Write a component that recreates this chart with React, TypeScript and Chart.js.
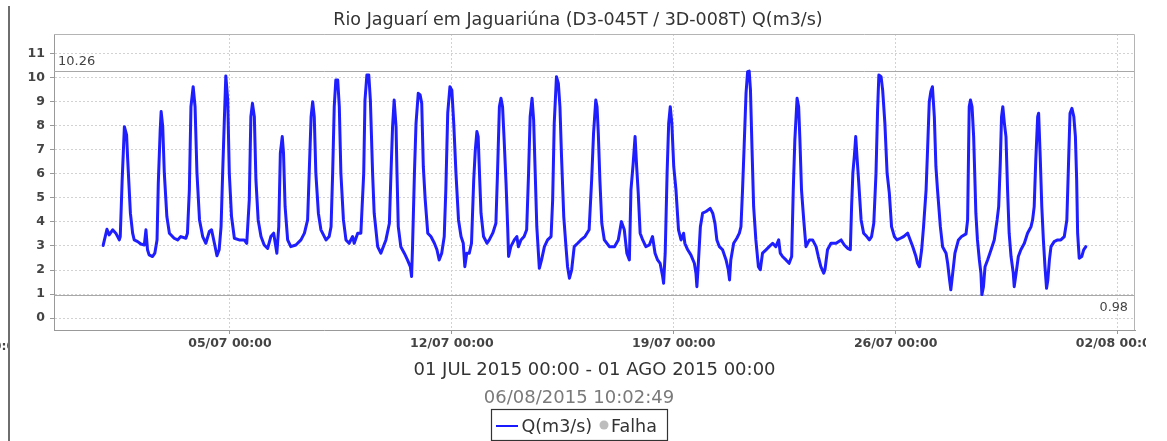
import { useEffect, useRef } from 'react';
import { Chart, registerables } from 'chart.js';

Chart.register(...registerables);

const TITLE = 'Rio Jaguarí em Jaguariúna (D3-045T / 3D-008T) Q(m3/s)';
const PERIOD_LABEL = '01 JUL 2015 00:00 - 01 AGO 2015 00:00';
const STAMP_LABEL = '06/08/2015 10:02:49';
const SERIES_LABEL = 'Q(m3/s)';
const FAIL_LABEL = 'Falha';

// days since 01/07/2015 00:00
const dayOffsets = [
  0.00, 0.12, 0.19, 0.30, 0.40, 0.51, 0.54, 0.60, 0.67, 0.74,
  0.77, 0.86, 0.93, 0.98, 1.09, 1.19, 1.30, 1.35, 1.40, 1.45,
  1.56, 1.63, 1.70, 1.74, 1.80, 1.83, 1.88, 1.93, 2.01, 2.09,
  2.24, 2.35, 2.45, 2.61, 2.66, 2.72, 2.77, 2.84, 2.90, 2.96,
  3.04, 3.14, 3.24, 3.35, 3.42, 3.51, 3.59, 3.66, 3.72, 3.77,
  3.82, 3.87, 3.93, 3.98, 4.05, 4.14, 4.29, 4.45, 4.53, 4.61,
  4.66, 4.71, 4.77, 4.82, 4.89, 4.98, 5.08, 5.19, 5.29, 5.38,
  5.43, 5.48, 5.54, 5.59, 5.65, 5.69, 5.74, 5.82, 5.92, 6.08,
  6.24, 6.35, 6.45, 6.50, 6.56, 6.61, 6.66, 6.71, 6.79, 6.87,
  7.03, 7.13, 7.19, 7.24, 7.29, 7.34, 7.40, 7.45, 7.50, 7.58,
  7.66, 7.76, 7.87, 7.92, 8.03, 8.13, 8.22, 8.26, 8.32, 8.38,
  8.43, 8.50, 8.55, 8.66, 8.76, 8.92, 9.03, 9.08, 9.13, 9.18,
  9.24, 9.27, 9.31, 9.39, 9.50, 9.60, 9.69, 9.73, 9.76, 9.82,
  9.87, 9.94, 10.00, 10.05, 10.10, 10.16, 10.24, 10.34, 10.45, 10.53,
  10.60, 10.68, 10.76, 10.81, 10.87, 10.94, 11.00, 11.06, 11.13, 11.21,
  11.29, 11.36, 11.41, 11.47, 11.55, 11.62, 11.69, 11.74, 11.79, 11.83,
  11.88, 11.92, 12.00, 12.11, 12.18, 12.29, 12.39, 12.44, 12.50, 12.55,
  12.60, 12.65, 12.71, 12.76, 12.79, 12.86, 12.97, 13.05, 13.10, 13.18,
  13.28, 13.36, 13.42, 13.47, 13.53, 13.58, 13.63, 13.68, 13.76, 13.83,
  13.92, 14.02, 14.13, 14.18, 14.23, 14.30, 14.36, 14.41, 14.46, 14.53,
  14.60, 14.65, 14.71, 14.78, 14.86, 14.97, 15.07, 15.20, 15.33, 15.41,
  15.47, 15.54, 15.58, 15.62, 15.67, 15.73, 15.81, 15.97, 16.13, 16.25,
  16.35, 16.44, 16.52, 16.60, 16.65, 16.72, 16.78, 16.83, 16.88, 16.94,
  17.02, 17.12, 17.23, 17.33, 17.41, 17.49, 17.57, 17.65, 17.68, 17.73,
  17.79, 17.84, 17.89, 17.94, 18.00, 18.07, 18.15, 18.23, 18.31, 18.35,
  18.44, 18.54, 18.65, 18.70, 18.73, 18.77, 18.84, 18.91, 19.02, 19.15,
  19.23, 19.30, 19.36, 19.44, 19.54, 19.65, 19.72, 19.76, 19.80, 19.89,
  19.99, 20.07, 20.12, 20.17, 20.22, 20.28, 20.33, 20.38, 20.42, 20.47,
  20.52, 20.59, 20.67, 20.73, 20.80, 20.91, 21.01, 21.12, 21.22, 21.31,
  21.36, 21.43, 21.54, 21.64, 21.72, 21.77, 21.82, 21.89, 21.94, 21.98,
  22.03, 22.10, 22.17, 22.28, 22.38, 22.49, 22.56, 22.64, 22.73, 22.77,
  22.85, 22.96, 23.12, 23.28, 23.38, 23.49, 23.57, 23.61, 23.65, 23.70,
  23.74, 23.78, 23.83, 23.91, 23.99, 24.09, 24.17, 24.24, 24.31, 24.38,
  24.43, 24.47, 24.54, 24.59, 24.66, 24.73, 24.80, 24.87, 24.96, 25.04,
  25.15, 25.25, 25.38, 25.46, 25.54, 25.64, 25.69, 25.75, 25.82, 25.88,
  25.96, 26.01, 26.06, 26.11, 26.16, 26.22, 26.27, 26.32, 26.41, 26.48,
  26.59, 26.64, 26.70, 26.74, 26.80, 26.87, 26.98, 27.08, 27.22, 27.27,
  27.32, 27.36, 27.41, 27.46, 27.50, 27.53, 27.58, 27.64, 27.69, 27.72,
  27.77, 27.82, 27.90, 28.01, 28.11, 28.20, 28.25, 28.30, 28.34, 28.38,
  28.43, 28.48, 28.53, 28.58, 28.64, 28.71, 28.74, 28.80, 28.87, 28.95,
  29.06, 29.16, 29.27, 29.32, 29.37, 29.42, 29.48, 29.51, 29.56, 29.61,
  29.66, 29.71, 29.76, 29.80, 29.85, 29.90, 30.00, 30.11, 30.21, 30.32,
  30.40, 30.45, 30.50, 30.56, 30.62, 30.67, 30.71, 30.74, 30.79, 30.87,
  30.93, 31.00,
];

// Q (m3/s)
const flowValues = [
  3.02, 3.69, 3.46, 3.67, 3.53, 3.25, 3.39, 5.74, 7.95, 7.61,
  6.71, 4.36, 3.53, 3.25, 3.18, 3.08, 3.04, 3.67, 2.84, 2.63,
  2.56, 2.70, 3.25, 5.60, 7.81, 8.58, 7.95, 6.02, 4.22, 3.53,
  3.32, 3.25, 3.39, 3.32, 3.53, 5.33, 8.78, 9.61, 8.78, 6.02,
  4.08, 3.39, 3.11, 3.60, 3.67, 3.11, 2.59, 2.84, 3.80, 6.02,
  8.09, 10.06, 9.06, 6.02, 4.22, 3.32, 3.25, 3.25, 3.11, 4.91,
  8.37, 8.92, 8.37, 5.74, 4.08, 3.39, 3.04, 2.90, 3.39, 3.53,
  3.11, 2.70, 3.80, 6.85, 7.54, 6.85, 4.63, 3.25, 2.97, 3.04,
  3.25, 3.53, 4.08, 6.02, 8.37, 8.99, 8.37, 6.02, 4.36, 3.67,
  3.25, 3.39, 3.80, 6.02, 8.78, 9.89, 9.89, 8.78, 6.02, 4.08,
  3.25, 3.11, 3.39, 3.11, 3.53, 3.53, 6.02, 9.06, 10.10, 10.10,
  9.06, 6.02, 4.36, 2.97, 2.70, 3.25, 3.94, 6.02, 7.95, 9.06,
  7.95, 6.02, 3.80, 2.97, 2.70, 2.42, 2.14, 1.73, 2.97, 6.02,
  8.09, 9.34, 9.27, 8.92, 6.29, 4.91, 3.53, 3.39, 3.11, 2.84,
  2.42, 2.70, 3.39, 5.33, 8.51, 9.61, 9.47, 8.09, 6.02, 4.08,
  3.39, 3.11, 2.14, 2.70, 2.70, 3.11, 5.74, 6.98, 7.75, 7.54,
  5.74, 4.36, 3.39, 3.11, 3.25, 3.53, 3.94, 6.02, 8.78, 9.13,
  8.78, 7.40, 5.60, 3.80, 2.56, 2.97, 3.25, 3.39, 2.97, 3.25,
  3.39, 3.67, 6.02, 8.37, 9.13, 8.23, 6.02, 3.80, 2.07, 2.42,
  2.97, 3.25, 3.39, 4.91, 8.09, 10.03, 9.75, 8.78, 6.71, 4.22,
  2.97, 2.14, 1.66, 2.01, 2.97, 3.11, 3.25, 3.39, 3.67, 5.74,
  7.68, 9.06, 8.78, 7.68, 5.74, 3.94, 3.25, 2.97, 2.97, 3.25,
  4.01, 3.67, 2.70, 2.42, 5.33, 6.43, 7.54, 6.29, 5.19, 3.53,
  3.25, 2.97, 3.04, 3.39, 2.70, 2.42, 2.28, 1.73, 1.45, 2.70,
  6.02, 8.09, 8.78, 8.09, 6.29, 5.33, 3.67, 3.25, 3.53, 3.11,
  2.84, 2.63, 2.28, 1.87, 1.31, 2.14, 3.80, 4.36, 4.43, 4.56,
  4.36, 3.94, 3.25, 2.97, 2.84, 2.42, 2.01, 1.59, 2.42, 3.11,
  3.32, 3.53, 3.80, 5.33, 7.12, 9.34, 10.24, 10.26, 9.47, 6.98,
  4.63, 3.25, 2.14, 2.01, 2.70, 2.84, 2.97, 3.11, 2.97, 3.25,
  2.70, 2.56, 2.42, 2.28, 2.56, 5.33, 7.40, 9.13, 8.78, 7.40,
  5.33, 4.08, 2.97, 3.25, 3.25, 2.97, 2.56, 2.14, 1.87, 2.01,
  2.84, 3.11, 3.11, 3.25, 3.04, 2.90, 2.84, 4.63, 6.02, 6.78,
  7.54, 6.71, 5.74, 4.08, 3.53, 3.39, 3.25, 3.39, 3.94, 6.02,
  8.64, 10.10, 10.03, 9.47, 8.09, 6.02, 5.19, 3.80, 3.39, 3.25,
  3.32, 3.39, 3.53, 3.25, 2.97, 2.56, 2.28, 2.14, 2.84, 3.80,
  5.33, 7.12, 8.99, 9.41, 9.61, 8.37, 6.29, 5.33, 3.80, 2.97,
  2.70, 2.28, 1.59, 1.18, 1.87, 2.70, 3.25, 3.39, 3.50, 4.08,
  8.78, 9.06, 8.78, 7.54, 5.74, 4.36, 3.25, 2.42, 1.87, 0.98,
  1.31, 2.14, 2.42, 2.84, 3.25, 4.08, 4.63, 6.43, 8.37, 8.78,
  8.09, 7.54, 5.33, 3.53, 2.56, 1.87, 1.31, 1.87, 2.56, 2.84,
  3.11, 3.53, 3.80, 4.08, 4.63, 6.57, 8.37, 8.51, 6.71, 4.63,
  3.25, 2.14, 1.24, 1.59, 2.42, 2.97, 3.18, 3.25, 3.25, 3.39,
  4.08, 6.29, 8.51, 8.71, 8.37, 7.54, 5.74, 3.53, 2.49, 2.56,
  2.84, 2.97,
];

const xTickDays = [4, 11, 18, 25, 32];
const xTickLabels = ['05/07 00:00', '12/07 00:00', '19/07 00:00', '26/07 00:00', '02/08 00:00'];
const yTickValues = [0, 1, 2, 3, 4, 5, 6, 7, 8, 9, 10, 11];
const MAX_VALUE = 10.26;
const MIN_VALUE = 0.98;
const MAX_LABEL = '10.26';
const MIN_LABEL = '0.98';

const FONT = '"DejaVu Sans", sans-serif';

const decorPlugin = {
  id: 'decor',
  beforeDatasetsDraw(chart: any) {
    const { ctx, chartArea } = chart;
    const y = chart.scales.y;
    ctx.save();
    ctx.strokeStyle = '#a8a8a8';
    ctx.lineWidth = 1;
    for (const v of [MAX_VALUE, MIN_VALUE]) {
      const py = Math.round(y.getPixelForValue(v)) + 0.5;
      ctx.beginPath();
      ctx.moveTo(chartArea.left, py);
      ctx.lineTo(chartArea.right, py);
      ctx.stroke();
    }
    ctx.fillStyle = '#444';
    ctx.font = `13px ${FONT}`;
    ctx.textAlign = 'left';
    ctx.textBaseline = 'alphabetic';
    ctx.fillText(MAX_LABEL, chartArea.left + 4, y.getPixelForValue(MAX_VALUE) - 6);
    ctx.textAlign = 'right';
    ctx.font = `12.8px ${FONT}`;
    ctx.fillText(MIN_LABEL, chartArea.right - 7, y.getPixelForValue(MIN_VALUE) + 16);
    ctx.restore();
  },
  afterDraw(chart: any) {
    const { ctx, chartArea } = chart;
    ctx.save();
    // top & right frame
    ctx.strokeStyle = '#b4b4b4';
    ctx.lineWidth = 1;
    ctx.beginPath();
    ctx.moveTo(chartArea.left, chartArea.top + 0.5);
    ctx.lineTo(chartArea.right - 0.5, chartArea.top + 0.5);
    ctx.lineTo(chartArea.right - 0.5, chartArea.bottom);
    ctx.stroke();

    // clip the right tick label like the reference
    ctx.fillStyle = '#fff';
    ctx.fillRect(1146, chartArea.bottom + 2, 30, 60);

    // left panel line
    ctx.fillStyle = '#6e6e6e';
    ctx.fillRect(8, 6, 2, 435);

    // clipped left tick label fragment
    ctx.save();
    ctx.beginPath();
    ctx.rect(0, 0, 8, 441);
    ctx.clip();
    ctx.fillStyle = '#444';
    ctx.font = `bold 12.5px ${FONT}`;
    ctx.textAlign = 'left';
    ctx.fillText('00:00', -16, 350);
    ctx.restore();

    // title
    ctx.fillStyle = '#333';
    ctx.font = `17.5px ${FONT}`;
    ctx.textAlign = 'center';
    ctx.textBaseline = 'alphabetic';
    ctx.fillText(TITLE, 578, 25);

    // period label (axis title)
    ctx.font = `18px ${FONT}`;
    ctx.fillStyle = '#333';
    ctx.fillText(PERIOD_LABEL, (chartArea.left + chartArea.right) / 2, 375);

    // timestamp
    ctx.fillStyle = '#7a7a7a';
    ctx.fillText(STAMP_LABEL, 579, 403);

    // legend
    ctx.strokeStyle = '#333';
    ctx.lineWidth = 1.2;
    ctx.strokeRect(491.5, 409.5, 176, 31);
    ctx.strokeStyle = '#1a1aff';
    ctx.lineWidth = 2;
    ctx.beginPath();
    ctx.moveTo(496, 426);
    ctx.lineTo(518, 426);
    ctx.stroke();
    ctx.fillStyle = '#333';
    ctx.font = `17.5px ${FONT}`;
    ctx.textAlign = 'left';
    ctx.fillText(SERIES_LABEL, 521.5, 431.5);
    ctx.fillStyle = '#bdbdbd';
    ctx.beginPath();
    ctx.arc(604, 425, 4.5, 0, Math.PI * 2);
    ctx.fill();
    ctx.fillStyle = '#333';
    ctx.fillText(FAIL_LABEL, 611, 431.5);
    ctx.restore();
  },
};

export default function App() {
  const canvasRef = useRef<HTMLCanvasElement | null>(null);

  useEffect(() => {
    if (!canvasRef.current) return;
    const points = dayOffsets.map((d, i) => ({ x: d, y: flowValues[i] }));
    const chart = new Chart(canvasRef.current, {
      type: 'line',
      data: {
        datasets: [
          {
            label: SERIES_LABEL,
            data: points,
            borderColor: '#1e1eff',
            backgroundColor: '#1e1eff',
            borderWidth: 3,
            borderJoinStyle: 'round',
            borderCapStyle: 'round',
            pointRadius: 0,
            tension: 0,
            fill: false,
          },
          {
            label: FAIL_LABEL,
            data: [],
            borderColor: '#bdbdbd',
            backgroundColor: '#bdbdbd',
            pointRadius: 4,
            showLine: false,
          },
        ],
      },
      options: {
        animation: false,
        responsive: false,
        devicePixelRatio: 1,
        parsing: false,
        layout: { padding: { left: 8, right: 32, top: 34, bottom: 71 } },
        plugins: {
          legend: { display: false },
          title: { display: false },
          tooltip: { enabled: false },
        },
        scales: {
          x: {
            type: 'linear',
            min: -1.55,
            max: 32.55,
            afterBuildTicks: (scale: any) => {
              scale.ticks = xTickDays.map((v) => ({ value: v }));
            },
            afterFit: (scale: any) => {
              scale.height = 40;
              scale.paddingLeft = 0;
              scale.paddingRight = 0;
            },
            ticks: {
              autoSkip: false,
              maxRotation: 0,
              padding: 2,
              color: '#444',
              font: { family: FONT, size: 12.5, weight: 'bold' },
              callback: (_v: any, i: number) => xTickLabels[i],
            },
            grid: {
              color: '#d2d2d2',
              tickColor: '#999',
              tickLength: 4,
              lineWidth: 1,
            },
            border: { color: '#999', dash: [2, 2], width: 1 },
          },
          y: {
            type: 'linear',
            min: -0.49,
            max: 11.8,
            afterBuildTicks: (scale: any) => {
              scale.ticks = yTickValues.map((v) => ({ value: v }));
            },
            afterFit: (scale: any) => {
              scale.width = 46;
              scale.paddingTop = 0;
              scale.paddingBottom = 0;
            },
            ticks: {
              padding: 5,
              color: '#444',
              font: { family: FONT, size: 12.5, weight: 'bold' },
              callback: (v: any) => String(v),
            },
            grid: {
              color: '#d2d2d2',
              tickColor: '#999',
              tickLength: 4,
              lineWidth: 1,
            },
            border: { color: '#999', dash: [2, 2], width: 1 },
          },
        },
      },
      plugins: [decorPlugin],
    });
    return () => chart.destroy();
  }, []);

  return (
    <div style={{ position: 'absolute', left: 0, top: 0, width: 1167, height: 441, background: '#fff' }}>
      <canvas ref={canvasRef} width={1167} height={441} style={{ width: 1167, height: 441, display: 'block' }} />
    </div>
  );
}
